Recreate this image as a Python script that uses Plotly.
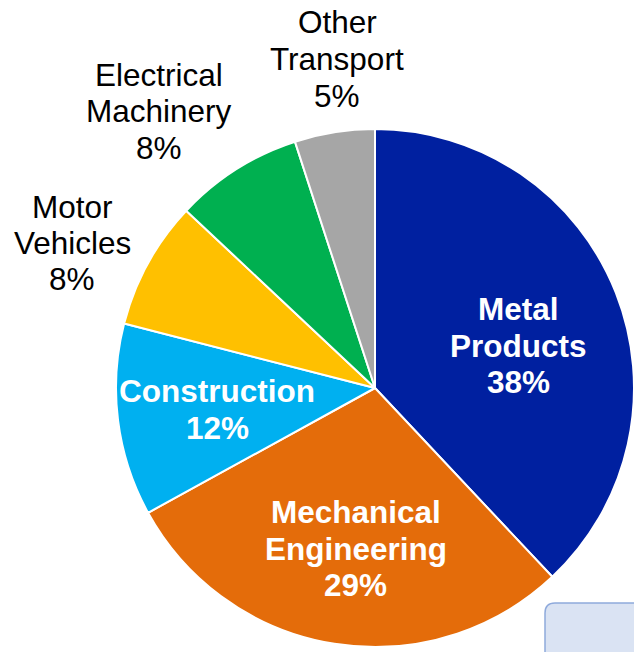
import plotly.graph_objects as go

categories = ["Metal Products", "Mechanical Engineering", "Construction",
              "Motor Vehicles", "Electrical Machinery", "Other Transport"]
shares = [38, 29, 12, 8, 8, 5]
colors = ["#0020A0", "#E46C0A", "#00B0F0", "#FFC000", "#00B050", "#A6A6A6"]

W, H = 634, 652

# pie centre / radius in page pixels (radius limited by right edge)
cx, cy = 375, 388
r = min(W - cx, cx, cy, H - cy + 10)

fig = go.Figure(go.Pie(
    labels=categories,
    values=shares,
    sort=False,
    direction="clockwise",
    rotation=0,
    marker=dict(colors=colors, line=dict(color="white", width=2)),
    textinfo="none",
    hoverinfo="label+percent",
    showlegend=False,
    domain=dict(x=[(cx - r) / W, (cx + r) / W],
                y=[max(0, 1 - (cy + r) / H), 1 - (cy - r) / H]),
))

# label layout: (category index, x px, first line y px, line spacing px, bold, colour)
label_pos = [
    (0, 518, 309, 36.5, True, "white", ["Metal", "Products"]),
    (1, 356, 512, 36.5, True, "white", ["Mechanical", "Engineering"]),
    (2, 217, 391, 37, True, "white", ["Construction"]),
    (3, 72, 207, 36, False, "black", ["Motor", "Vehicles"]),
    (4, 159, 75, 36.5, False, "black", ["Electrical", "Machinery"]),
    (5, 337, 22, 37, False, "black", ["Other", "Transport"]),
]

font_family = "Arial, Liberation Sans, sans-serif"
for idx, px, py, dy, bold, col, lines in label_pos:
    all_lines = lines + [f"{shares[idx]}%"]
    for k, line in enumerate(all_lines):
        txt = f"<b>{line}</b>" if bold else line
        fig.add_annotation(
            x=px / W, y=1 - (py + k * dy) / H,
            xref="paper", yref="paper",
            text=txt, showarrow=False, xanchor="center", yanchor="middle",
            font=dict(family=font_family, size=31.5, color=col),
        )

# partial rounded box at bottom right
x0 = 545 / W
yt = 1 - 603 / H
rx = 10 / W
ry = 10 / H
path = (f"M {x0},-0.1 L {x0},{yt - ry} Q {x0},{yt} {x0 + rx},{yt} "
        f"L 1.1,{yt} L 1.1,-0.1 Z")
fig.add_shape(type="path", path=path, xref="paper", yref="paper",
              fillcolor="#DAE3F3", line=dict(color="#8FAADC", width=1.5))

fig.update_layout(
    width=W, height=H,
    margin=dict(l=0, r=0, t=0, b=0),
    paper_bgcolor="white",
    plot_bgcolor="white",
)

fig.write_html(
    "out.html",
    config={"displayModeBar": False},
    post_script="document.body.style.margin='0';"
                "document.body.style.overflow='hidden';",
)
